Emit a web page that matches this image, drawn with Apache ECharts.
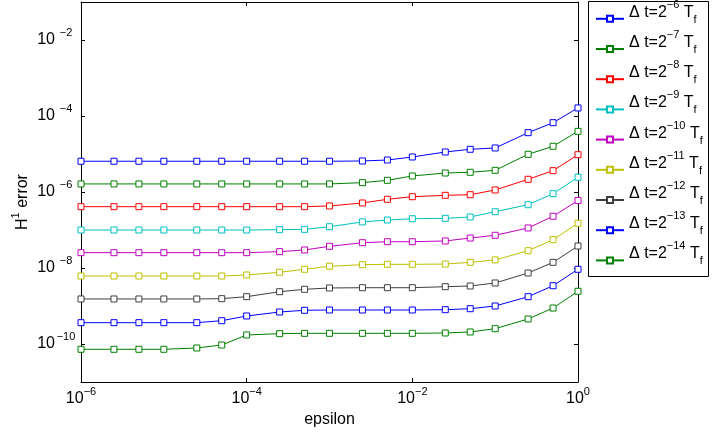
<!DOCTYPE html>
<html><head><meta charset="utf-8">
<script src="https://cdn.jsdelivr.net/npm/echarts@6/dist/echarts.min.js"></script>
<style>html,body{margin:0;padding:0;background:#fff}#c{width:716px;height:436px}</style>
</head><body><div id="c"></div>
<script>
const epsilon = [1e-6, 2.5e-6, 5e-6, 1e-5, 2.5e-5, 5e-5, 1e-4, 2.5e-4, 5e-4, 1e-3, 2.5e-3, 5e-3, 1e-2, 2.5e-2, 5e-2, 1e-1, 2.5e-1, 5e-1, 1];
const dtExponents = ['−6', '−7', '−8', '−9', '−10', '−11', '−12', '−13', '−14'];
const err_dt6  = [6.45e-6, 6.45e-6, 6.45e-6, 6.45e-6, 6.45e-6, 6.45e-6, 6.45e-6, 6.45e-6, 6.45e-6, 6.45e-6, 6.55e-6, 6.95e-6, 8.34e-6, 1.13e-5, 1.33e-5, 1.44e-5, 3.64e-5, 6.67e-5, 1.63e-4];
const err_dt7  = [1.63e-6, 1.63e-6, 1.63e-6, 1.63e-6, 1.63e-6, 1.63e-6, 1.63e-6, 1.63e-6, 1.63e-6, 1.63e-6, 1.76e-6, 2.03e-6, 2.64e-6, 3.16e-6, 3.30e-6, 3.72e-6, 9.82e-6, 1.60e-5, 3.95e-5];
const err_dt8  = [4.11e-7, 4.11e-7, 4.11e-7, 4.11e-7, 4.11e-7, 4.11e-7, 4.11e-7, 4.11e-7, 4.11e-7, 4.29e-7, 5.14e-7, 6.43e-7, 7.52e-7, 8.18e-7, 8.49e-7, 1.13e-6, 2.16e-6, 3.64e-6, 9.59e-6];
const err_dt9  = [1.00e-7, 1.00e-7, 1.00e-7, 1.00e-7, 1.00e-7, 1.00e-7, 1.00e-7, 1.02e-7, 1.04e-7, 1.22e-7, 1.63e-7, 1.83e-7, 1.98e-7, 2.03e-7, 2.20e-7, 3.03e-7, 4.63e-7, 9.02e-7, 2.44e-6];
const err_dt10 = [2.53e-8, 2.53e-8, 2.53e-8, 2.53e-8, 2.53e-8, 2.53e-8, 2.53e-8, 2.69e-8, 2.98e-8, 3.72e-8, 4.63e-8, 4.92e-8, 4.92e-8, 5.14e-8, 6.15e-8, 7.26e-8, 1.13e-7, 2.30e-7, 5.97e-7];
const err_dt11 = [6.15e-9, 6.15e-9, 6.15e-9, 6.15e-9, 6.15e-9, 6.15e-9, 6.55e-9, 7.71e-9, 9.25e-9, 1.11e-8, 1.22e-8, 1.25e-8, 1.25e-8, 1.27e-8, 1.41e-8, 1.63e-8, 2.85e-8, 5.56e-8, 1.50e-7];
const err_dt12 = [1.53e-9, 1.53e-9, 1.53e-9, 1.53e-9, 1.53e-9, 1.56e-9, 1.76e-9, 2.38e-9, 2.75e-9, 2.98e-9, 3.03e-9, 3.03e-9, 3.03e-9, 3.22e-9, 3.36e-9, 4.03e-9, 7.38e-9, 1.41e-8, 3.79e-8];
const err_dt13 = [3.64e-10, 3.64e-10, 3.64e-10, 3.64e-10, 3.64e-10, 4.10e-10, 5.46e-10, 6.95e-10, 7.71e-10, 7.85e-10, 7.85e-10, 7.85e-10, 7.85e-10, 8.00e-10, 8.49e-10, 1.00e-9, 1.76e-9, 3.42e-9, 9.25e-9];
const err_dt14 = [7.26e-11, 7.26e-11, 7.26e-11, 7.26e-11, 7.85e-11, 9.42e-11, 1.73e-10, 1.87e-10, 1.91e-10, 1.91e-10, 1.91e-10, 1.91e-10, 1.91e-10, 1.95e-10, 2.07e-10, 2.53e-10, 4.55e-10, 8.85e-10, 2.44e-9];
const xTicks = [1e-6, 1e-4, 1e-2, 1];
const xTickExp = ['−6', '−4', '−2', '0'];
const yTicks = [1e-10, 1e-8, 1e-6, 1e-4, 1e-2];
const yTickExp = ['−10', '−8', '−6', '−4', '−2'];

const allErr = [err_dt6, err_dt7, err_dt8, err_dt9, err_dt10, err_dt11, err_dt12, err_dt13, err_dt14];
const colors = ['#0000ff', '#008000', '#ff0000', '#00bfbf', '#bf00bf', '#bfbf00', '#404040', '#0000ff', '#008000'];
const FONT = "'Liberation Sans', Arial, Helvetica, sans-serif";
const names = dtExponents.map(e => 'Δ t=2^' + e + ' T_f');

function tickLabel(ticks, exps) {
  return function (v) {
    let best = 0, bd = Infinity;
    ticks.forEach((t, i) => { const d = Math.abs(Math.log10(t) - Math.log10(v)); if (d < bd) { bd = d; best = i; } });
    return '{b|10}{s|' + exps[best] + '}';
  };
}
const tickRich = {
  b: { fontSize: 16, lineHeight: 16, fontFamily: FONT, color: '#000' },
  s: { fontSize: 11, lineHeight: 11, fontFamily: FONT, color: '#000', padding: [0, 0, 15, 0] }
};
const yTickRich = {
  b: { fontSize: 16, lineHeight: 16, fontFamily: FONT, color: '#000' },
  s: { fontSize: 11, lineHeight: 11, fontFamily: FONT, color: '#000', padding: [0, 0, 15, 0], width: 22, align: 'left' }
};
const axisLineStyle = { color: '#000', width: 1 };

const series = allErr.map((vals, k) => ({
  type: 'line',
  name: names[k],
  data: epsilon.map((x, i) => [x, vals[i]]),
  symbol: 'rect',
  symbolSize: 6,
  color: colors[k],
  lineStyle: { color: colors[k], width: 1 },
  itemStyle: { color: '#fff', borderColor: colors[k], borderWidth: 1 },
  emphasis: { disabled: true },
  animation: false,
  z: 2 + k
}));

const chart = echarts.init(document.getElementById('c'), null, { renderer: 'canvas' });
chart.setOption({
  animation: false,
  backgroundColor: '#fff',
  textStyle: { fontFamily: FONT },
  grid: { left: 81, top: 2, width: 497, height: 380, containLabel: false, outerBoundsMode: 'none' },
  xAxis: [{
    type: 'log', logBase: 10, min: 1e-6, max: 1, position: 'bottom',
    axisLine: { show: true, lineStyle: axisLineStyle },
    axisTick: { show: true, inside: true, length: 4, customValues: xTicks, lineStyle: axisLineStyle },
    axisLabel: { show: true, customValues: xTicks, margin: 9, formatter: tickLabel(xTicks, xTickExp), rich: tickRich },
    splitLine: { show: false }, minorTick: { show: false },
    name: 'epsilon', nameLocation: 'middle', nameGap: 30, nameMoveOverlap: false,
    nameTextStyle: { fontSize: 16, color: '#000', fontFamily: FONT }
  }, {
    type: 'log', logBase: 10, min: 1e-6, max: 1, position: 'top',
    axisLine: { show: true, lineStyle: axisLineStyle },
    axisTick: { show: true, inside: true, length: 4, customValues: xTicks, lineStyle: axisLineStyle },
    axisLabel: { show: false }, splitLine: { show: false }
  }],
  yAxis: [{
    type: 'log', logBase: 10, min: 1e-11, max: 1e-1, position: 'left',
    axisLine: { show: true, lineStyle: axisLineStyle },
    axisTick: { show: true, inside: true, length: 4, customValues: yTicks, lineStyle: axisLineStyle },
    axisLabel: { show: true, customValues: yTicks, margin: 4, formatter: tickLabel(yTicks, yTickExp), rich: yTickRich },
    splitLine: { show: false }, minorTick: { show: false },
    name: '{b|H}{s|1}{b| error}', nameLocation: 'middle', nameGap: 50, nameRotate: 90, nameMoveOverlap: false,
    nameTextStyle: { rich: tickRich, fontSize: 16, color: '#000', padding: [0, 20, 0, 0] }
  }, {
    type: 'log', logBase: 10, min: 1e-11, max: 1e-1, position: 'right',
    axisLine: { show: true, lineStyle: axisLineStyle },
    axisTick: { show: true, inside: true, length: 4, customValues: yTicks, lineStyle: axisLineStyle },
    axisLabel: { show: false }, splitLine: { show: false }
  }],
  graphic: [{
    type: 'rect', z: 0,
    shape: { x: 588.5, y: 1.5, width: 120, height: 275 },
    style: { fill: '#fff', stroke: '#000', lineWidth: 1 }
  }],
  legend: {
    orient: 'vertical', left: 595, top: -0.7, padding: 0, z: 10,
    itemWidth: 28, itemHeight: 7.5, itemGap: -8.8,
    selectedMode: false,
    data: names,
    formatter: function (name) {
      const k = names.indexOf(name);
      return '{b|Δ t=2}{sup|' + dtExponents[k] + '}{b| T}{sub|f}';
    },
    textStyle: {
      fontSize: 16, color: '#000', fontFamily: FONT,
      rich: {
        b: { fontSize: 16, lineHeight: 18, fontFamily: FONT, color: '#000', padding: [0, 0, 13, 0] },
        sup: { fontSize: 11, lineHeight: 8, fontFamily: FONT, color: '#000', padding: [0, 0, 28, 0] },
        sub: { fontSize: 11, lineHeight: 8, fontFamily: FONT, color: '#000', padding: [2, 0, 0, 0] }
      }
    }
  },
  series: series
});
</script>
</body></html>
